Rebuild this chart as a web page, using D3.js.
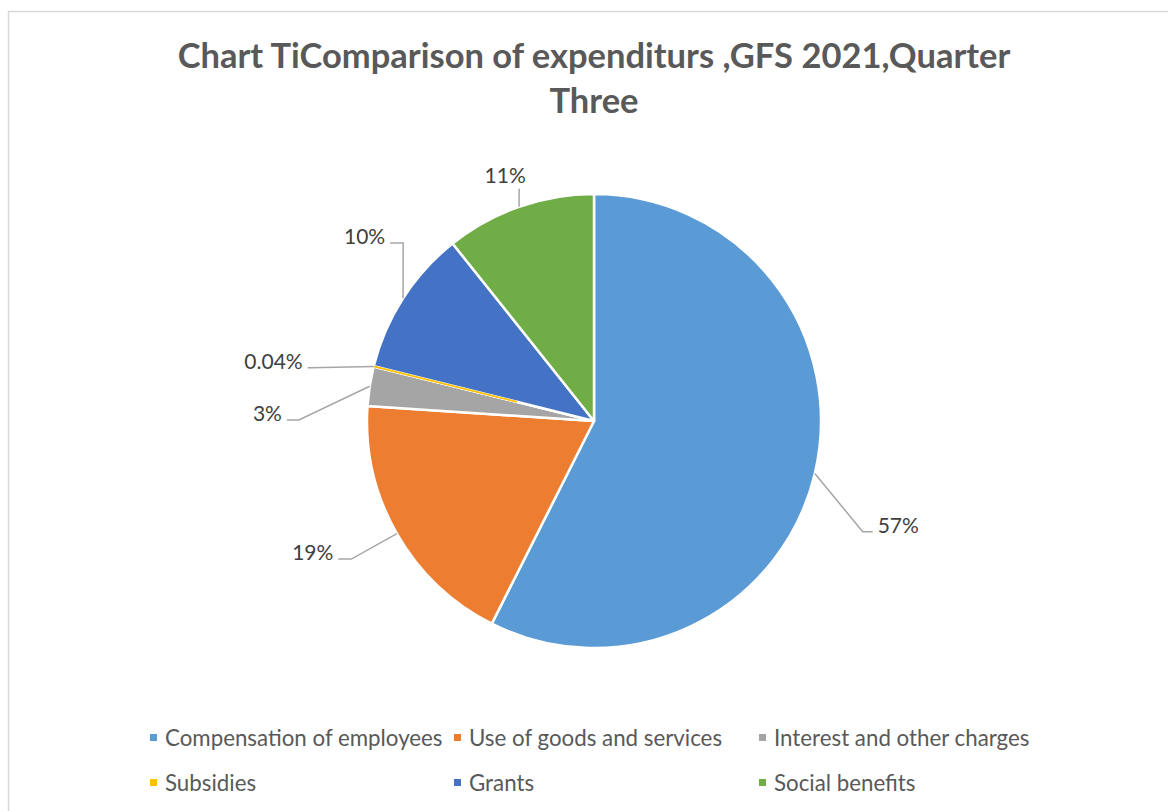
<!DOCTYPE html>
<html>
<head>
<meta charset="utf-8">
<script src="https://cdn.jsdelivr.net/npm/d3@7"></script>
<style>
  html, body { margin: 0; padding: 0; background: #fff; }
  svg { display: block; }
</style>
</head>
<body>
<div id="chart"></div>
<script>
// Datos del gráfico
const categories = [
  'Compensation of employees',
  'Use of goods and services',
  'Interest and other charges',
  'Subsidies',
  'Grants',
  'Social benefits'
];
const shares = [57.4, 18.6, 2.8, 0.04, 10.4, 10.7];
const colors = ['#5B9BD5', '#ED7D31', '#A5A5A5', '#FFC000', '#4472C4', '#70AD47'];
const titleLines = ['Chart TiComparison of expenditurs ,GFS 2021,Quarter', 'Three'];

// Colocación de etiquetas (estilo Excel "best fit")
const labelNudge = [
  { da: 9, rf: 1.28, side: 'right', tail: 10 },
  { da: 0.1, rf: 1.23, side: 'left', tail: 13 },
  { da: -8.6, rf: 1.30, side: 'left', tail: 12 },
  { da: -3.3, rf: 1.27, side: 'left', tail: 3 },
  { da: 10.3, rf: 1.15, side: 'left', tail: 13 },
  { da: 1.4, rf: 1.075, side: 'up', tail: 0 }
];

const width = 1168;
const height = 811;
const cx = 594, cy = 421, radius = 227;
const font = 'Lato, "Open Sans", sans-serif';

const svg = d3.select('#chart')
  .append('svg')
  .attr('width', width)
  .attr('height', height);

// Marco del gráfico
svg.append('rect')
  .attr('x', 8.5)
  .attr('y', 11.5)
  .attr('width', width + 20)
  .attr('height', height + 20)
  .attr('fill', '#fff')
  .attr('stroke', '#d9d9d9')
  .attr('stroke-width', 1.5);

// Título
svg.append('g')
  .selectAll('text')
  .data(titleLines)
  .enter()
  .append('text')
  .attr('x', cx)
  .attr('y', (d, i) => 68 + i * 45)
  .attr('text-anchor', 'middle')
  .attr('font-family', font)
  .attr('font-weight', 700)
  .attr('font-size', 34.5)
  .attr('fill', '#595959')
  .text(d => d);

const total = d3.sum(shares);
const pie = d3.pie().sort(null).value(d => d)(shares);
const arc = d3.arc().innerRadius(0).outerRadius(radius);

const g = svg.append('g').attr('transform', `translate(${cx},${cy})`);

g.selectAll('path.slice')
  .data(pie)
  .enter()
  .append('path')
  .attr('class', 'slice')
  .attr('d', arc)
  .attr('fill', (d, i) => colors[i])
  .attr('stroke', '#fff')
  .attr('stroke-width', 2.5)
  .attr('stroke-linejoin', 'round');

const polar = (a, r) => [r * Math.sin(a), -r * Math.cos(a)];

// Sectores muy finos: trazo visible como en Excel
pie.filter(d => d.endAngle - d.startAngle < 0.01).forEach(d => {
  const mid = (d.startAngle + d.endAngle) / 2;
  g.append('path')
    .attr('d', d3.line()([polar(mid, radius * 0.35), polar(mid, radius)]))
    .attr('stroke', colors[d.index])
    .attr('stroke-width', 1.6);
});

const fmt = v => {
  const p = v / total * 100;
  return p < 1 ? p.toFixed(2) + '%' : Math.round(p) + '%';
};

// Etiquetas con líneas guía
pie.forEach((d, i) => {
  const nudge = labelNudge[i];
  const mid = (d.startAngle + d.endAngle) / 2;
  const edge = polar(mid, radius);
  const elbow = polar(mid + nudge.da * Math.PI / 180, radius * nudge.rf);
  const dir = nudge.side === 'right' ? 1 : nudge.side === 'left' ? -1 : 0;
  const end = [elbow[0] + dir * nudge.tail, elbow[1]];

  g.append('path')
    .attr('d', d3.line()([edge, elbow, end]))
    .attr('fill', 'none')
    .attr('stroke', '#A6A6A6')
    .attr('stroke-width', 1.5);

  const t = g.append('text')
    .attr('font-family', font)
    .attr('font-size', 21)
    .attr('fill', '#404040')
    .text(fmt(d.data));

  if (dir === 0) {
    t.attr('x', elbow[0] - 14).attr('y', elbow[1] - 6).attr('text-anchor', 'middle');
  } else {
    t.attr('x', end[0] + dir * 5)
      .attr('y', end[1] + 1)
      .attr('text-anchor', dir > 0 ? 'start' : 'end');
  }
});

// Leyenda
const legendCols = [150, 454, 759];
const legend = svg.append('g')
  .selectAll('g')
  .data(categories)
  .enter()
  .append('g')
  .attr('transform', (d, i) => `translate(${legendCols[i % 3]}, ${738 + Math.floor(i / 3) * 45})`);

legend.append('rect')
  .attr('x', 0)
  .attr('y', -4)
  .attr('width', 7)
  .attr('height', 7)
  .attr('fill', (d, i) => colors[i]);

legend.append('text')
  .attr('x', 15)
  .attr('y', 0)
  .attr('dy', '0.35em')
  .attr('font-family', font)
  .attr('font-size', 22.3)
  .attr('fill', '#595959')
  .text(d => d);
</script>
</body>
</html>
